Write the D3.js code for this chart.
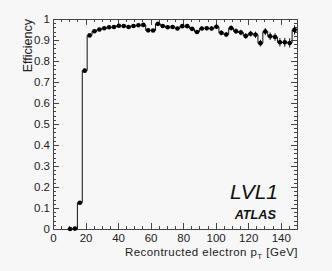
<!DOCTYPE html>
<html>
<head>
<meta charset="utf-8">
<script src="https://cdn.jsdelivr.net/npm/d3@7"></script>
<style>
  html, body { margin: 0; padding: 0; background: #f7f7f7; }
  svg { display: block; font-family: "Liberation Sans", Arial, sans-serif; }
  .axis path { display: none; }
  .axis line { stroke: #444; shape-rendering: crispEdges; }
  .axis text { fill: #222; font-size: 11.5px; }
</style>
</head>
<body>
<div id="chart"></div>
<script>
// bin centres (GeV), 3 GeV bins
var ptCenters = [10.5, 13.5, 16.5, 19.5, 22.5, 25.5, 28.5, 31.5, 34.5, 37.5,
  40.5, 43.5, 46.5, 49.5, 52.5, 55.5, 58.5, 61.5, 64.5, 67.5,
  70.5, 73.5, 76.5, 79.5, 82.5, 85.5, 88.5, 91.5, 94.5, 97.5,
  100.5, 103.5, 106.5, 109.5, 112.5, 115.5, 118.5, 121.5, 124.5, 127.5,
  130.5, 133.5, 136.5, 139.5, 142.5, 145.5, 148.5]
var efficiency = [0.000, 0.002, 0.125, 0.754, 0.922, 0.942, 0.950, 0.956, 0.961, 0.962,
  0.968, 0.967, 0.962, 0.967, 0.970, 0.972, 0.946, 0.945, 0.977, 0.967,
  0.961, 0.962, 0.955, 0.966, 0.966, 0.953, 0.938, 0.955, 0.956, 0.955,
  0.963, 0.934, 0.926, 0.957, 0.942, 0.936, 0.919, 0.930, 0.925, 0.885,
  0.940, 0.918, 0.914, 0.889, 0.889, 0.886, 0.948]
var errors = [0.002, 0.002, 0.008, 0.010, 0.005, 0.004, 0.004, 0.004, 0.004, 0.004,
  0.004, 0.004, 0.005, 0.005, 0.005, 0.005, 0.006, 0.006, 0.006, 0.006,
  0.007, 0.007, 0.007, 0.008, 0.008, 0.008, 0.009, 0.009, 0.010, 0.010,
  0.011, 0.011, 0.012, 0.012, 0.013, 0.013, 0.014, 0.014, 0.015, 0.016,
  0.017, 0.018, 0.018, 0.020, 0.021, 0.022, 0.022]
var binWidth = 3

var xTicks = [0, 20, 40, 60, 80, 100, 120, 140]
var xTickLabels = ['0', '20', '40', '60', '80', '100', '120', '140']
var yTicks = [0, 0.1, 0.2, 0.3, 0.4, 0.5, 0.6, 0.7, 0.8, 0.9, 1]
var yTickLabels = ['0', '0.1', '0.2', '0.3', '0.4', '0.5', '0.6', '0.7', '0.8', '0.9', '1']

var width = 332, height = 271
var frame = { left: 53, right: 297, top: 19, bottom: 229 }

var svg = d3.select('#chart').append('svg')
  .attr('width', width)
  .attr('height', height)

svg.append('rect')
  .attr('width', width).attr('height', height)
  .attr('fill', '#f7f7f7')

var x = d3.scaleLinear().domain([0, 150]).range([frame.left, frame.right])
var y = d3.scaleLinear().domain([0, 1]).range([frame.bottom, frame.top])

var xMinor = d3.range(0, 151, 5)
var yMinor = d3.range(0, 1.0001, 0.02)

function translate(a, b) { return 'translate(' + a + ',' + b + ')' }

// bottom axis, ticks pointing in
svg.append('g').attr('class', 'axis')
  .attr('transform', translate(0, frame.bottom))
  .call(d3.axisBottom(x).tickValues(xMinor).tickSize(-3).tickFormat(''))
svg.append('g').attr('class', 'axis')
  .attr('transform', translate(0, frame.bottom))
  .call(d3.axisBottom(x).tickValues(xTicks).tickSize(-6).tickPadding(5)
    .tickFormat(function(d, i) { return xTickLabels[i] }))

// top axis
svg.append('g').attr('class', 'axis')
  .attr('transform', translate(0, frame.top))
  .call(d3.axisTop(x).tickValues(xMinor).tickSize(-3).tickFormat(''))
svg.append('g').attr('class', 'axis')
  .attr('transform', translate(0, frame.top))
  .call(d3.axisTop(x).tickValues(xTicks).tickSize(-6).tickFormat(''))

// left axis
svg.append('g').attr('class', 'axis')
  .attr('transform', translate(frame.left, 0))
  .call(d3.axisLeft(y).tickValues(yMinor).tickSize(-3).tickFormat(''))
svg.append('g').attr('class', 'axis')
  .attr('transform', translate(frame.left, 0))
  .call(d3.axisLeft(y).tickValues(yTicks).tickSize(-6).tickPadding(3)
    .tickFormat(function(d, i) { return yTickLabels[i] }))

// right axis
svg.append('g').attr('class', 'axis')
  .attr('transform', translate(frame.right, 0))
  .call(d3.axisRight(y).tickValues(yMinor).tickSize(-3).tickFormat(''))
svg.append('g').attr('class', 'axis')
  .attr('transform', translate(frame.right, 0))
  .call(d3.axisRight(y).tickValues(yTicks).tickSize(-6).tickFormat(''))

// frame
svg.append('rect')
  .attr('x', frame.left).attr('y', frame.top)
  .attr('width', frame.right - frame.left)
  .attr('height', frame.bottom - frame.top)
  .attr('fill', 'none')
  .attr('stroke', '#444')
  .attr('shape-rendering', 'crispEdges')

// histogram step line
var stepPts = ptCenters.map(function(c, i) { return [c - binWidth / 2, efficiency[i]] })
stepPts.push([ptCenters[ptCenters.length - 1] + binWidth / 2, efficiency[efficiency.length - 1]])
var step = d3.line()
  .x(function(d) { return x(d[0]) })
  .y(function(d) { return y(d[1]) })
  .curve(d3.curveStepAfter)
svg.append('path')
  .attr('d', step(stepPts))
  .attr('fill', 'none')
  .attr('stroke', '#111')
  .attr('stroke-width', 1)

// error bars
svg.append('g').selectAll('line')
  .data(ptCenters)
  .join('line')
  .attr('x1', function(d) { return x(d) })
  .attr('x2', function(d) { return x(d) })
  .attr('y1', function(d, i) { return y(efficiency[i] - errors[i]) })
  .attr('y2', function(d, i) { return y(efficiency[i] + errors[i]) })
  .attr('stroke', '#111')

// markers
svg.append('g').selectAll('circle')
  .data(ptCenters)
  .join('circle')
  .attr('cx', function(d) { return x(d) })
  .attr('cy', function(d, i) { return y(efficiency[i]) })
  .attr('r', 2.3)
  .attr('fill', '#000')

// axis titles
var xt = svg.append('text')
  .attr('x', frame.right + 1).attr('y', 255.5)
  .attr('text-anchor', 'end')
  .attr('font-size', 11.5).attr('fill', '#222')
  .attr('letter-spacing', 0.45)
xt.append('tspan').text('Recontructed electron p')
xt.append('tspan').attr('font-size', 8).attr('dy', 3).text('T')
xt.append('tspan').attr('dy', -3).text(' [GeV]')

svg.append('text')
  .attr('transform', translate(32, frame.top) + ' rotate(-90)')
  .attr('text-anchor', 'end')
  .attr('font-size', 12.5).attr('fill', '#222')
  .text('Efficiency')

// labels
svg.append('text')
  .attr('x', 278).attr('y', 199)
  .attr('text-anchor', 'end')
  .attr('font-size', 21).attr('font-style', 'italic')
  .attr('fill', '#111')
  .text('LVL1')

svg.append('text')
  .attr('x', 276).attr('y', 219)
  .attr('text-anchor', 'end')
  .attr('font-size', 12.7).attr('font-style', 'italic').attr('font-weight', 'bold')
  .attr('fill', '#111')
  .text('ATLAS')
</script>
</body>
</html>
